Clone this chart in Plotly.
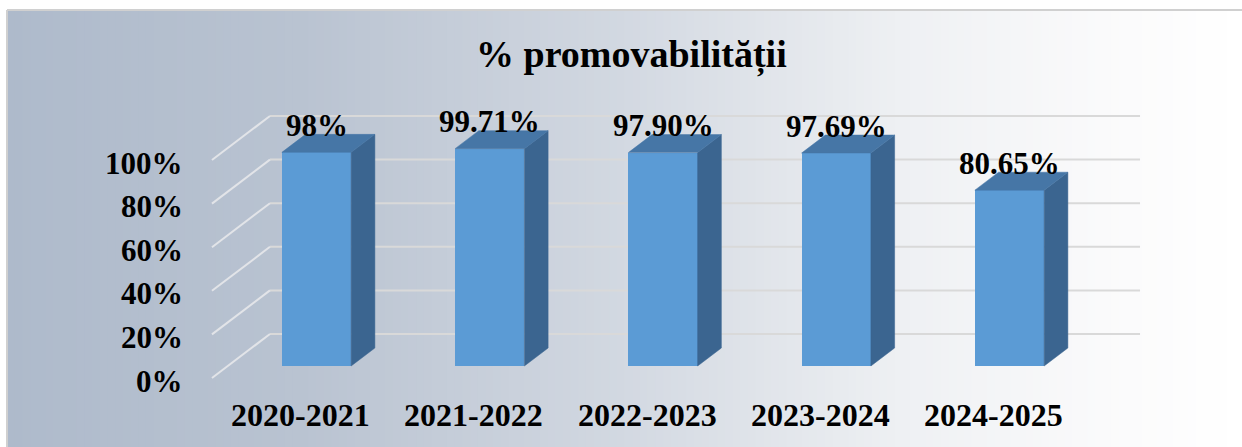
import plotly.graph_objects as go

# ---------------- data ----------------
categories = ["2020-2021", "2021-2022", "2022-2023", "2023-2024", "2024-2025"]
values = [98.0, 99.71, 97.90, 97.69, 80.65]
value_labels = ["98%", "99.71%", "97.90%", "97.69%", "80.65%"]
tick_values = [0, 20, 40, 60, 80, 100]
tick_labels = ["0%", "20%", "40%", "60%", "80%", "100%"]
title_text = "% promovabilității"

# ---------------- geometry / style ----------------
W, H = 1242, 447
XS = 173.25      # px per category unit
X0 = 316.5       # px of first bar centre
YS = 2.18        # px per percent
Y0 = 366.0       # px of bar base
BAR_W = 0.40
DEPTH = (0.3348, 20.18)   # full floor depth vector (x units, % units)
D_BAR_FRONT = 0.273
D_BAR_BACK = 0.682
WALL_XL, WALL_XR = -0.512, 4.51

FRONT = "#5B9BD5"
SIDE = "#3B6590"
TOP = "#4676A6"
GRID = "#D9D9D9"
FONT = "Liberation Serif"


def proj(x, v, d):
    return (x + (d - D_BAR_FRONT) * DEPTH[0], v + (d - D_BAR_FRONT) * DEPTH[1])


bd = D_BAR_BACK - D_BAR_FRONT
bdx, bdy = bd * DEPTH[0], bd * DEPTH[1]

fig = go.Figure()

# front faces
xpos = list(range(len(categories)))
fig.add_trace(go.Bar(x=xpos, y=values, width=BAR_W, base=0,
                     marker=dict(color=FRONT, line=dict(width=0)),
                     hoverinfo="skip", showlegend=False))

# side and top faces
sx, sy = [], []
tx, ty = [], []
for i, v in zip(xpos, values):
    r = i + BAR_W / 2
    l = i - BAR_W / 2
    sx += [r, r + bdx, r + bdx, r, r, None]
    sy += [0, bdy, v + bdy, v, 0, None]
    tx += [l, r, r + bdx, l + bdx, l, None]
    ty += [v, v, v + bdy, v + bdy, v, None]
fig.add_trace(go.Scatter(x=sx, y=sy, mode="lines", fill="toself", fillcolor=SIDE,
                         line=dict(color=SIDE, width=0.5), hoverinfo="skip", showlegend=False))
fig.add_trace(go.Scatter(x=tx, y=ty, mode="lines", fill="toself", fillcolor=TOP,
                         line=dict(color=TOP, width=0.5), hoverinfo="skip", showlegend=False))

shapes = []
# background gradient
stops = [(7, (0xAE, 0xBA, 0xCB)), (300, (0xB9, 0xC3, 0xD1)), (620, (0xD2, 0xD8, 0xE1)),
         (900, (0xEE, 0xF0, 0xF3)), (1100, (0xFA, 0xFA, 0xFB)), (1242, (0xFF, 0xFF, 0xFF))]


def col_at(px):
    for (a, ca), (b, cb) in zip(stops[:-1], stops[1:]):
        if a <= px <= b:
            t = (px - a) / (b - a)
            return "rgb(%d,%d,%d)" % tuple(round(ca[k] + (cb[k] - ca[k]) * t) for k in range(3))
    return "rgb(255,255,255)"


N = 160
x_start = 7
for k in range(N):
    p0 = x_start + (W - x_start) * k / N
    p1 = x_start + (W - x_start) * (k + 1) / N
    shapes.append(dict(type="rect", xref="paper", yref="paper",
                       x0=p0 / W, x1=p1 / W + 0.001, y0=0, y1=1 - 10 / H,
                       fillcolor=col_at((p0 + p1) / 2), line=dict(width=0), layer="below"))
# frame border
shapes.append(dict(type="line", xref="paper", yref="paper", x0=7 / W, x1=1, y0=1 - 10 / H, y1=1 - 10 / H,
                   line=dict(color="#D0D0D0", width=2), layer="below"))
shapes.append(dict(type="line", xref="paper", yref="paper", x0=7 / W, x1=7 / W, y0=0, y1=1 - 10 / H,
                   line=dict(color="#D0D0D0", width=2), layer="below"))

# gridlines (back wall + left wall diagonals)
for v in tick_values:
    bx0, by = proj(WALL_XL, v, 1.0)
    bx1, _ = proj(WALL_XR, v, 1.0)
    fx, fy = proj(WALL_XL, v, 0.0)
    shapes.append(dict(type="line", xref="x", yref="y", x0=bx0, x1=bx1, y0=by, y1=by,
                       line=dict(color=GRID, width=2), layer="below"))
    shapes.append(dict(type="line", xref="x", yref="y", x0=fx, x1=bx0, y0=fy, y1=by,
                       line=dict(color="#E2E4E8", width=2), layer="below"))

annotations = []
# y tick labels
for v, t in zip(tick_values, tick_labels):
    fx, fy = proj(WALL_XL, v, 0.0)
    annotations.append(dict(x=-0.759, y=fy, xref="x", yref="y", text=t, showarrow=False,
                            xanchor="right", yanchor="middle", yshift=-3,
                            font=dict(family=FONT, size=31, color="black", weight="bold")))
# category labels
for i, c in zip(xpos, categories):
    fx, fy = proj(i, 0, 0.0)
    annotations.append(dict(x=fx, y=fy - 17, xref="x", yref="y", text=c, showarrow=False,
                            xanchor="center", yanchor="middle",
                            font=dict(family=FONT, size=32, color="black", weight="bold")))
# value labels
for i, v, t in zip(xpos, values, value_labels):
    annotations.append(dict(x=i, y=v, xref="x", yref="y", text=t, showarrow=False,
                            xanchor="center", yanchor="middle", yshift=27,
                            font=dict(family=FONT, size=31, color="black", weight="bold")))
# title
annotations.append(dict(x=631 / W, y=1 - 55 / H, xref="paper", yref="paper", text=title_text,
                        showarrow=False, xanchor="center", yanchor="middle",
                        font=dict(family=FONT, size=38, color="black", weight="bold")))

fig.update_layout(
    width=W, height=H,
    margin=dict(l=0, r=0, t=0, b=0, pad=0),
    paper_bgcolor="white", plot_bgcolor="rgba(0,0,0,0)",
    xaxis=dict(range=[-X0 / XS, (W - X0) / XS], visible=False, fixedrange=True),
    yaxis=dict(range=[(Y0 - H) / YS, Y0 / YS], visible=False, fixedrange=True),
    shapes=shapes, annotations=annotations, showlegend=False, bargap=0,
)

fig.write_html("out.html", config={"displayModeBar": False},
               post_script="document.body.style.margin='0';document.body.style.overflow='hidden';")
